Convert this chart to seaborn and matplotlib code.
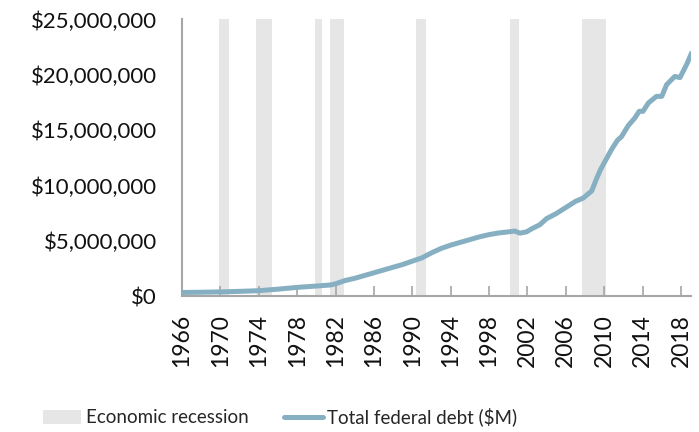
import matplotlib
matplotlib.use("Agg")
import matplotlib.pyplot as plt
import seaborn as sns
import pandas as pd
from matplotlib.patches import Patch
from matplotlib.lines import Line2D
from matplotlib.ticker import FuncFormatter, FixedLocator

# ---- data ----
years = [1966.0, 1968.0, 1970.0, 1972.0, 1974.0, 1976.0, 1978.0, 1980.0, 1981.5,
         1982.0, 1983.0, 1984.0, 1985.0, 1986.0, 1987.0, 1988.0, 1989.0, 1990.0,
         1991.0, 1992.0, 1993.0, 1994.0, 1995.0, 1996.0, 1997.0, 1998.0, 1999.0,
         2000.0, 2000.7, 2001.2, 2001.9, 2002.5, 2003.3, 2004.0, 2005.0, 2006.0,
         2007.0, 2007.8, 2008.7, 2009.2, 2009.6, 2010.1, 2010.8, 2011.4, 2011.8,
         2012.5, 2013.2, 2013.65, 2014.05, 2014.6, 2015.45, 2016.0, 2016.5,
         2017.35, 2017.9, 2018.6, 2019.1]
debt_musd = [320000, 340000, 370000, 420000, 480000, 620000, 780000, 900000, 1000000,
             1100000, 1400000, 1600000, 1850000, 2100000, 2350000, 2600000, 2850000, 3150000,
             3450000, 3900000, 4300000, 4600000, 4850000, 5100000, 5350000, 5550000, 5700000,
             5800000, 5870000, 5680000, 5800000, 6100000, 6450000, 7000000, 7450000, 8000000,
             8550000, 8850000, 9500000, 10600000, 11400000, 12200000, 13300000, 14100000, 14400000,
             15400000, 16100000, 16700000, 16700000, 17450000, 18050000, 18050000, 19100000,
             19850000, 19750000, 20950000, 21950000]

recession_start = [1969.90, 1973.69, 1979.91, 1981.40, 1990.40, 2000.17, 2007.68]
recession_end   = [1970.90, 1975.39, 1980.64, 1982.90, 1991.38, 2001.14, 2010.15]

x_ticks = [1966, 1970, 1974, 1978, 1982, 1986, 1990, 1994, 1998, 2002, 2006, 2010, 2014, 2018]
y_ticks = [0, 5000000, 10000000, 15000000, 20000000, 25000000]

line_label = "Total federal debt ($M)"
band_label = "Economic recession"

LINE_C = "#86AFC2"
BAND_C = "#E6E6E6"
AXIS_C = "#A6A6A6"

sns.set_theme(style="white")
plt.rcParams["font.family"] = ["Lato", "DejaVu Sans"]

fig = plt.figure(figsize=(6.99, 4.32), dpi=100)
ax = fig.add_axes([0.2604, 0.3148, 0.7282, 0.6401])

for s, e in zip(recession_start, recession_end):
    ax.axvspan(s, e, color=BAND_C, lw=0, zorder=0)

df = pd.DataFrame({"year": years, "debt": debt_musd})
sns.lineplot(data=df, x="year", y="debt", ax=ax, color=LINE_C, lw=3.6,
             zorder=3, legend=False, solid_capstyle="round", solid_joinstyle="round")

ax.set_xlim(1966, 2019.05)
ax.set_ylim(0, 25000000)
ax.set_xlabel("")
ax.set_ylabel("")

ax.xaxis.set_major_locator(FixedLocator(x_ticks))
ax.set_xticklabels([str(t) for t in x_ticks], rotation=90, fontsize=16.5, color="#111111")
ax.yaxis.set_major_locator(FixedLocator(y_ticks))
ax.yaxis.set_major_formatter(FuncFormatter(lambda v, p: "${:,.0f}".format(v)))
for lab in ax.get_yticklabels():
    lab.set_fontsize(16)
    lab.set_color("#111111")

ax.tick_params(axis="x", direction="in", length=7, width=1.2, color=AXIS_C, pad=13, bottom=True)
ax.tick_params(axis="y", length=0, pad=18, labelsize=16)

for side in ["top", "right"]:
    ax.spines[side].set_visible(False)
for side in ["left", "bottom"]:
    ax.spines[side].set_color(AXIS_C)
    ax.spines[side].set_linewidth(1.5)
ax.grid(False)

handles = [Patch(facecolor=BAND_C, edgecolor="none", label=band_label),
           Line2D([0], [0], color=LINE_C, lw=3.6, solid_capstyle="round", label=line_label)]
fig.legend(handles=handles, loc="center", bbox_to_anchor=(280 / 699, 1 - 417 / 432),
           ncol=2, frameon=False, handlelength=2.05, handleheight=0.75, handletextpad=0.25,
           columnspacing=1.9, prop={"family": ["Lato", "DejaVu Sans"], "size": 13.5})

fig.savefig("out.png", dpi=100)
